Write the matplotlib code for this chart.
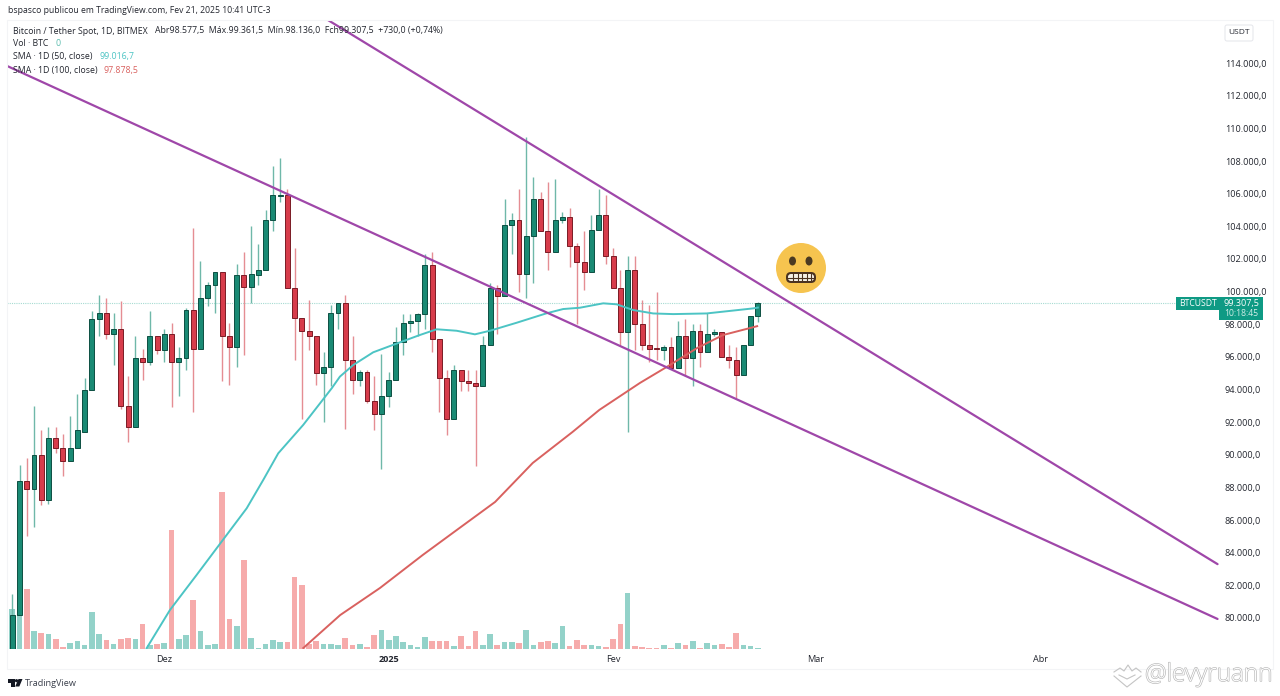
import matplotlib
matplotlib.use("Agg")
import matplotlib.pyplot as plt
import matplotlib.patheffects as pe
from matplotlib.patches import Circle, Ellipse, FancyBboxPatch, Rectangle, Polygon

plt.rcParams['font.family'] = ['Open Sans', 'DejaVu Sans']

W, H = 1280, 696

# prices in thousands of USDT, one row per day from 10 Nov 2024
opens = [76.7,80.2,88.4,87.9,90.0,87.2,91.0,90.4,89.6,90.4,91.4,94.0,98.3,98.7,97.4,97.7,93.0,91.7,95.9,95.7,
         97.3,96.4,97.4,95.7,95.9,98.9,96.5,99.6,100.4,101.2,97.3,96.6,101.0,100.3,101.0,101.3,104.4,105.85,105.9,100.2,
         98.4,97.6,97.3,95.0,95.4,98.7,99.3,95.8,94.6,95.1,93.3,92.5,93.6,94.6,96.9,98.1,98.2,98.6,101.6,97.1,
         94.7,92.2,95.2,94.5,94.4,94.2,96.7,100.2,99.7,104.1,104.4,101.1,103.4,105.7,103.7,102.4,104.4,104.6,102.8,101.8,
         101.2,103.8,104.7,102.2,100.2,97.5,101.3,98.0,96.7,96.55,96.4,96.6,95.3,97.3,95.9,97.6,96.3,97.4,97.5,96.0,
         95.8,94.9,96.7,98.5]
closes = [80.2,88.4,87.9,90.0,87.2,91.0,90.4,89.6,90.4,91.5,94.0,98.3,98.7,97.4,97.7,93.0,91.7,95.9,95.7,97.3,
          96.4,97.4,95.7,95.9,98.9,96.5,99.6,100.4,101.2,97.3,96.6,101.0,100.3,101.1,101.3,104.4,105.9,105.9,100.2,98.4,
          97.6,97.3,95.0,95.4,98.7,99.3,95.8,94.6,95.1,93.3,92.5,93.6,94.6,96.9,98.1,98.2,98.6,101.6,97.1,94.7,
          92.2,95.2,94.5,94.4,94.2,96.7,100.2,99.7,104.1,104.4,101.1,103.4,105.7,103.7,102.4,104.4,104.6,102.8,101.8,101.2,
          103.8,104.7,102.2,100.2,97.5,101.3,98.0,96.7,96.5,96.5,96.6,95.3,97.3,95.9,97.6,96.3,97.4,97.5,96.0,95.8,
          94.9,96.7,98.5,99.3]
highs = [81.5,89.4,89.8,93.0,91.5,91.7,91.7,91.3,92.4,93.7,94.7,98.8,99.8,99.6,98.7,99.4,94.8,97.3,96.5,98.8,
         97.3,97.7,98.1,96.6,99.0,103.9,101.9,100.6,101.2,101.2,98.1,101.7,102.4,104.0,102.9,105.0,107.7,108.2,106.3,102.7,
         98.4,99.5,97.3,96.3,99.2,99.3,99.8,97.3,95.2,95.2,94.8,96.2,95.1,97.8,98.6,98.6,98.7,102.3,102.4,97.1,
         95.2,95.5,95.2,95.2,95.2,97.3,100.5,100.4,105.7,104.8,106.3,109.5,107.0,106.1,106.7,106.9,104.9,105.1,103.0,103.7,
         104.7,106.3,105.9,102.7,101.3,102.2,102.2,99.5,99.2,100.0,96.7,97.2,98.2,98.3,98.0,98.0,98.7,97.7,97.5,96.7,
         96.6,96.7,98.5,99.36]
lows = [76.7,80.2,85.0,85.6,86.9,87.0,90.1,88.7,89.6,90.4,91.4,94.0,97.3,97.1,95.5,92.8,90.8,91.7,94.6,95.5,
        96.2,95.7,92.9,93.6,95.2,92.6,96.5,99.1,98.7,94.5,94.3,95.4,96.1,99.3,100.4,101.3,103.7,105.5,100.2,95.8,
        92.2,96.4,94.3,92.0,94.2,97.7,91.6,93.7,94.2,93.2,91.5,89.1,92.9,94.6,96.1,97.5,97.3,97.7,96.3,92.6,
        91.2,92.2,93.9,93.9,89.3,94.2,96.7,97.4,99.7,102.3,100.0,99.6,100.5,103.7,101.3,102.4,104.2,101.5,98.0,100.1,
        101.2,103.8,101.7,100.2,96.7,91.4,96.4,96.4,95.7,95.8,95.8,95.3,95.3,94.9,94.2,95.4,96.3,97.3,96.0,95.3,
        93.5,94.9,96.7,98.14]
# traded volume, arbitrary units
volumes = [118,118,178,52,48,45,28,5,18,23,12,110,45,25,15,29,32,30,75,10,
           15,17,357,30,42,147,53,10,13,470,88,67,265,32,2,15,25,21,21,215,
           190,15,23,15,15,10,33,10,15,5,40,57,25,37,19,10,5,34,24,22,
           24,8,37,8,52,12,43,11,21,19,17,55,10,19,24,16,68,8,25,10,
           12,7,6,30,75,167,8,6,3,3,10,2,16,12,23,3,16,12,15,6,
           46,11,9,3]

sma50_days = [18.56,21.78,25.47,28.92,32.38,34.67,36.74,40.19,44.12,45.26,47.1,49.86,53.55,56.31,58.62,61.38,63.91,65.98,
              69.67,73.81,76.1,78.41,81.63,83.48,85.77,88.53,91.3,95.91,102.35,103]
sma50_vals = [78.15,80.49,82.64,84.68,86.72,88.46,90.09,91.83,94.07,94.79,95.5,96.28,96.89,97.34,97.69,97.6,97.38,97.6,
              98.09,98.67,98.93,99.01,99.28,99.22,98.87,98.66,98.62,98.66,98.97,99.02]
sma100_days = [40.2,45.3,50.8,56.7,61.4,66.7,71.9,77.4,81.1,86.7,90.4,94.6,98.2,102.9]
sma100_vals = [78.16,80.18,81.84,83.86,85.39,87.11,89.5,91.4,92.75,94.4,95.38,96.54,97.34,97.88]

upper_days = [43.6,166.5]
upper_vals = [116.64,83.3]
lower_days = [-0.7,166.5]
lower_vals = [113.82,79.94]

last_price = 99.3075
price_ticks = list(range(80,116,2))
date_pos = [21,52,83,111,142]
date_labels = ['Dez','2025','Fev','Mar','Abr']

TEAL='#1a8a74'; TEAL_E='#0d4f42'; RED='#d73c4b'; RED_E='#7a1b25'
TEAL_W='#6fb8a9'; RED_W='#e58d93'; TEAL_V='#93d2c9'; RED_V='#f6abab'
PURPLE='#9f47a9'; DARK='#23262f'

fig = plt.figure(figsize=(12.8,6.96),dpi=100,facecolor='white')
L,R,T,B = 7,1219,20,649
pos=[L/W,1-B/H,(R-L)/W,(B-T)/H]
xlim=(-0.73,166.7)

axv=fig.add_axes(pos,zorder=1); axv.set_xlim(xlim); axv.set_ylim(-1.5,(B-T)*3-1.5); axv.axis('off')
days=list(range(len(closes)))
up=[c>=o for o,c in zip(opens,closes)]
axv.bar(days,volumes,width=0.78,color=[TEAL_V if u else RED_V for u in up],linewidth=0)

ax=fig.add_axes(pos,zorder=2); ax.patch.set_alpha(0)
ax.set_xlim(xlim); ax.set_ylim(78.10,116.64)
for s in ax.spines.values(): s.set_visible(False)
ax.vlines(days,lows,highs,colors=[TEAL_W if u else RED_W for u in up],linewidth=1.0,zorder=2)
ax.bar(days,[max(abs(c-o),0.06) for o,c in zip(opens,closes)],bottom=[min(o,c) for o,c in zip(opens,closes)],
       width=0.68,color=[TEAL if u else RED for u in up],edgecolor=[TEAL_E if u else RED_E for u in up],linewidth=0.7,zorder=3)
ax.plot(sma50_days,sma50_vals,color='#4cc4c4',lw=1.4,zorder=4)
ax.plot(sma100_days,sma100_vals,color='#d9615f',lw=1.4,zorder=4)
ax.plot(upper_days,upper_vals,color=PURPLE,lw=1.6,zorder=5,solid_capstyle='round')
ax.plot(lower_days,lower_vals,color=PURPLE,lw=1.6,zorder=5,solid_capstyle='round')
ax.plot([xlim[0],160.7],[last_price,last_price],color='#a6dbd2',lw=0.8,ls=(0,(1,1)),zorder=1)

ax.yaxis.tick_right()
ax.set_yticks(price_ticks)
ax.set_yticklabels([f"{p}.000,0" for p in price_ticks],fontsize=6.6,color=DARK)
ax.tick_params(axis='y',length=0,pad=4.3)
ax.set_xticks(date_pos)
ax.set_xticklabels(date_labels,fontsize=6.6,color=DARK)
ax.get_xticklabels()[1].set_fontweight('bold')
ax.tick_params(axis='x',length=0,pad=4.5)

ov=fig.add_axes([0,0,1,1],zorder=5); ov.set_xlim(0,W); ov.set_ylim(H,0); ov.axis('off'); ov.patch.set_alpha(0)
ov.add_patch(Rectangle((7,20),1266,649,fill=False,ec='#f3f4f6',lw=0.8))
FS=6.3
ov.text(8,10.5,'bspasco publicou em TradingView.com, Fev 21, 2025 10:41 UTC-3',fontsize=6.2,color=DARK,va='center')
ov.text(13,31,'Bitcoin / Tether Spot, 1D, BITMEX',fontsize=FS,color=DARK,va='center')
ov.text(155,31,'Abr98.577,5  Máx.99.361,5  Mín.98.136,0  Fch99.307,5  +730,0 (+0,74%)',fontsize=FS,color=DARK,va='center')
ov.text(13,44,'Vol · BTC',fontsize=FS,color=DARK,va='center')
ov.text(55,44,'0',fontsize=FS,color='#5bbcae',va='center')
ov.text(13,57,'SMA · 1D (50, close)',fontsize=FS,color=DARK,va='center')
ov.text(99,57,'99.016,7',fontsize=FS,color='#4cc4c4',va='center')
ov.text(13,70,'SMA · 1D (100, close)',fontsize=FS,color=DARK,va='center')
ov.text(104,70,'97.878,5',fontsize=FS,color='#d9615f',va='center')

# USDT box
ov.add_patch(FancyBboxPatch((1225,25),28,16,boxstyle='round,pad=0,rounding_size=2',fc='white',ec='#e4e6ea',lw=0.7))
ov.text(1239,33,'USDT',fontsize=6,color=DARK,ha='center',va='center')

# last price tags
ov.add_patch(Rectangle((1176,297),43,13,fc='#0f9a84',ec='none'))
ov.add_patch(Rectangle((1219,297),44,23,fc='#0f9a84',ec='none'))
ov.text(1197.5,303.7,'BTCUSDT',fontsize=6.2,color='white',ha='center',va='center')
ov.text(1241,303.5,'99.307,5',fontsize=6.5,color='white',ha='center',va='center')
ov.text(1241,314,'10:18:45',fontsize=6.2,color='#d5efe9',ha='center',va='center')

# emoji
ov.add_patch(Circle((801,268),25,fc='#f6c44f',ec='none'))
ov.add_patch(Ellipse((792.5,261),7,9,fc='#4b3a22',ec='none'))
ov.add_patch(Ellipse((809,261),7,9,fc='#4b3a22',ec='none'))
ov.add_patch(FancyBboxPatch((786,272),30,11,boxstyle='round,pad=0,rounding_size=5',fc='#4b3320',ec='none'))
ov.add_patch(FancyBboxPatch((788,274),26,7,boxstyle='round,pad=0,rounding_size=3',fc='#f7f2e6',ec='none'))
for x in (793,797.5,802,806.5,811):
    ov.plot([x,x],[274,281],color='#4b3320',lw=0.8)
ov.plot([788,814],[277.5,277.5],color='#4b3320',lw=0.8)

# TradingView logo
ov.add_patch(Polygon([(8,679),(14.5,679),(14.5,686.5),(11,686.5),(11,682.5),(8,682.5)],fc='#131722',ec='none'))
ov.add_patch(Circle((16.5,680.7),1.6,fc='#131722',ec='none'))
ov.add_patch(Polygon([(18.5,679),(22.5,679),(19.3,686.5),(15.2,686.5)],fc='#131722',ec='none'))
ov.text(25,683,'TradingView',fontsize=6.6,color='#3a3f4b',va='center')

# watermark
ov.text(1145,675,'@levyruann',fontsize=17.5,color='white',va='center',fontweight='light',
        path_effects=[pe.Stroke(linewidth=0.9,foreground='#b5b5b5'),pe.Normal()])
ov.plot([1114,1120,1124,1128,1132,1136,1141],[672,668,671,665,671,668,672],color='#c4c4c4',lw=0.8)
ov.plot([1119,1127,1135],[675,679,675],color='#c4c4c4',lw=0.8)
ov.plot([1114,1127,1141],[676,687,676],color='#c4c4c4',lw=0.8)

fig.savefig('out.png',dpi=100)
